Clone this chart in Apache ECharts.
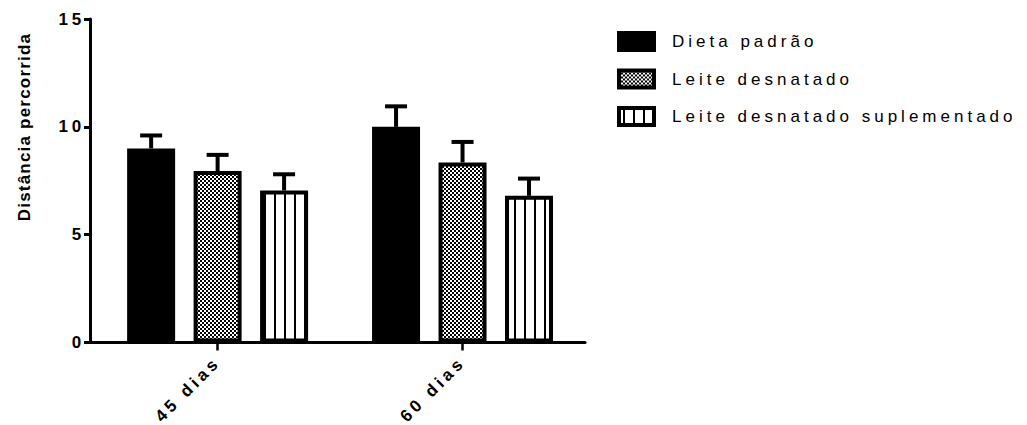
<!DOCTYPE html>
<html>
<head>
<meta charset="utf-8">
<script src="https://cdn.jsdelivr.net/npm/echarts@6/dist/echarts.min.js"></script>
<style>
  html, body { margin: 0; padding: 0; background: #fff; }
  #chart { width: 1027px; height: 425px; }
  /* wide tracking on all labels; the axis title is set a little tighter */
  #chart svg text { letter-spacing: 4px; }
  #chart svg text[style*="bold"] { letter-spacing: 3.8px; }
  #chart svg text[style*="bolder"] { letter-spacing: 1.2px; }
</style>
</head>
<body>
<div id="chart"></div>
<script>
// Groups on the x axis (positions 1 and 2 on the axis)
const categories = ['45 dias', '60 dias'];
const categoryPos = [1, 2];
const seriesNames = ['Dieta padrão', 'Leite desnatado', 'Leite desnatado suplementado'];
// Mean distance per group, one array per diet
const dietaPadrao = [9.0, 10.0];
const leiteDesnatado = [7.95, 8.35];
const leiteSuplementado = [7.05, 6.8];
// Upper error (SEM) per group
const errDietaPadrao = [0.6, 0.95];
const errLeiteDesnatado = [0.75, 0.95];
const errLeiteSuplementado = [0.75, 0.8];
const yTicks = [0, 5, 10, 15];

const means = [dietaPadrao, leiteDesnatado, leiteSuplementado];
const errors = [errDietaPadrao, errLeiteDesnatado, errLeiteSuplementado];

// Fill patterns
function checkerPattern() {
  const c = document.createElement('canvas');
  c.width = 4; c.height = 4;
  const g = c.getContext('2d');
  g.fillStyle = '#fff'; g.fillRect(0, 0, 4, 4);
  g.fillStyle = '#000';
  g.fillRect(0, 0, 2, 2); g.fillRect(2, 2, 2, 2);
  return c;
}
function stripePattern() {
  const c = document.createElement('canvas');
  c.width = 10; c.height = 4;
  const g = c.getContext('2d');
  g.fillStyle = '#fff'; g.fillRect(0, 0, 10, 4);
  g.fillStyle = '#000'; g.fillRect(4, 0, 2, 4);
  return c;
}
const fills = [
  '#000',
  { image: checkerPattern(), repeat: 'repeat' },
  { image: stripePattern(), repeat: 'repeat' }
];

const BAR_W = 48;
const BAR_GAP = 0.385;
const FONT = 'Liberation Sans, Arial, sans-serif';

const chart = echarts.init(document.getElementById('chart'), null, { renderer: 'svg' });

const barSeries = seriesNames.map((name, i) => ({
  name,
  type: 'bar',
  barWidth: BAR_W,
  barGap: (BAR_GAP * 100) + '%',
  data: categoryPos.map((x, j) => [x, means[i][j]]),
  itemStyle: { color: fills[i], borderColor: '#000', borderWidth: 4 },
  emphasis: { disabled: true },
  z: 2
}));

// Upward error bars with caps, placed over each bar
const errData = [];
seriesNames.forEach((n, i) => {
  categoryPos.forEach((x, j) => {
    errData.push([x, means[i][j], means[i][j] + errors[i][j], i]);
  });
});
const errSeries = {
  type: 'custom',
  name: 'err',
  data: errData,
  z: 1,
  renderItem(params, api) {
    const x = api.value(0);
    const idx = api.value(3);
    const off = (idx - 1) * BAR_W * (1 + BAR_GAP);
    const base = api.coord([x, api.value(1)]);
    const top = api.coord([x, api.value(2)]);
    const cx = base[0] + off;
    const style = { stroke: '#000', lineWidth: 4, fill: null };
    return {
      type: 'group',
      children: [
        { type: 'line', shape: { x1: cx, y1: base[1], x2: cx, y2: top[1] }, style },
        { type: 'line', shape: { x1: cx - 11, y1: top[1], x2: cx + 11, y2: top[1] }, style }
      ]
    };
  }
};

chart.setOption({
  animation: false,
  backgroundColor: '#fff',
  grid: { left: 90, top: 19, width: 495, height: 323.5 },
  legend: {
    data: seriesNames,
    orient: 'vertical',
    left: 617,
    top: 31,
    padding: 0,
    icon: 'rect',
    itemWidth: 35,
    itemHeight: 17,
    itemGap: 16.5,
    selectedMode: false,
    itemStyle: { borderColor: '#000', borderWidth: 4 },
    textStyle: { fontFamily: FONT, fontSize: 17, color: '#000', padding: [0, 0, 0, 13], lineHeight: 21 }
  },
  xAxis: {
    type: 'value',
    min: 0.479,
    max: 2.5,
    axisLine: { lineStyle: { color: '#000', width: 3 } },
    splitLine: { show: false },
    axisTick: { customValues: categoryPos, length: 8, lineStyle: { color: '#000', width: 2.5 } },
    axisLabel: {
      customValues: categoryPos,
      rotate: 45,
      margin: 17,
      formatter: v => categories[categoryPos.indexOf(v)],
      fontFamily: FONT, fontSize: 17, fontWeight: 'bold', color: '#000'
    }
  },
  yAxis: {
    type: 'value',
    min: 0,
    max: 15,
    interval: 5,
    axisLine: { show: true, lineStyle: { color: '#000', width: 3 } },
    splitLine: { show: false },
    axisTick: { show: true, length: 6, lineStyle: { color: '#000', width: 3 } },
    axisLabel: {
      customValues: yTicks,
      margin: 5,
      fontFamily: FONT, fontSize: 17, fontWeight: 'bold', color: '#000'
    }
  },
  graphic: [{
    type: 'text',
    x: 24,
    y: 127,
    rotation: Math.PI / 2,
    style: {
      text: 'Distância percorrida',
      fontFamily: FONT,
      fontSize: 17,
      fontWeight: 'bolder',
      fill: '#000',
      align: 'center',
      verticalAlign: 'middle'
    }
  }],
  series: [...barSeries, errSeries]
});
</script>
</body>
</html>
